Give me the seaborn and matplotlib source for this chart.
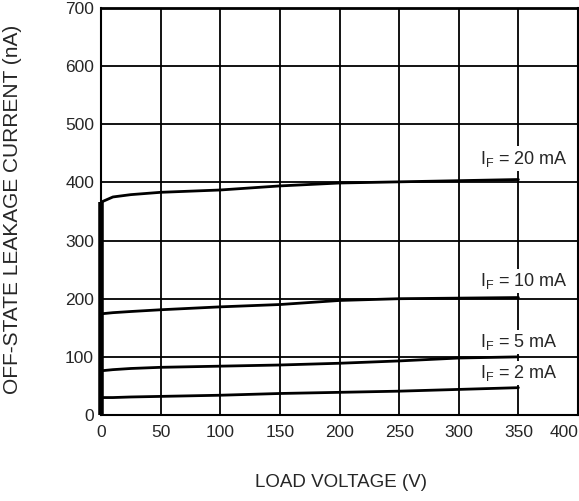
import matplotlib
matplotlib.use("Agg")
import matplotlib.pyplot as plt
import pandas as pd
import seaborn as sns

# values (load voltage in V, leakage in nA)
voltage = [0, 10, 25, 50, 100, 150, 200, 250, 300, 350]
leak_20ma = [366, 375, 379, 383, 387, 394, 399, 401, 403, 405]
leak_10ma = [174, 176, 178, 181, 186, 190, 197, 200, 201, 202]
leak_5ma = [76, 78, 80, 82, 84, 86, 89, 93, 98, 100]
leak_2ma = [30, 30, 31, 32, 34, 37, 39, 41, 44, 47]

series_names = ["20 mA", "10 mA", "5 mA", "2 mA"]
label_y = [441, 230, 126, 72]
label_x = 318

x_ticks = list(range(0, 401, 50))
y_ticks = list(range(0, 701, 100))

rows = []
for name, vals in zip(series_names, [leak_20ma, leak_10ma, leak_5ma, leak_2ma]):
    for v, i in zip(voltage, vals):
        rows.append({"voltage": v, "leakage": i, "IF": name})
df = pd.DataFrame(rows)

sns.set_style("white")
plt.rcParams["font.family"] = ["Liberation Sans", "DejaVu Sans"]

fig = plt.figure(figsize=(5.79, 5.01), dpi=100)
ax = fig.add_axes([101 / 579, 1 - 415 / 501, 477 / 579, 407 / 501])

sns.lineplot(data=df, x="voltage", y="leakage", units="IF", estimator=None,
             color="black", lw=2.0, ax=ax, legend=False, zorder=3)

# curves all rise out of the left axis
ax.vlines(0, 0, max(leak_20ma[0], leak_10ma[0], leak_5ma[0], leak_2ma[0]),
          color="black", lw=4, zorder=4, clip_on=False)

ax.set_xlim(0, 400)
ax.set_ylim(0, 700)
ax.set_xticks(x_ticks)
ax.set_yticks(y_ticks)
ax.grid(True, color="black", lw=1.3)
ax.tick_params(length=0, labelsize=12.5)
ax.tick_params(axis="x", pad=7)
ax.tick_params(axis="y", pad=5)
ax.get_xticklabels()[-1].set_horizontalalignment("right")

for side, sp in ax.spines.items():
    sp.set_color("black")
    sp.set_linewidth(1.5)
ax.spines["top"].set_linewidth(2.0)

for name, yv in zip(series_names, label_y):
    ax.text(label_x, yv, r"I$_{\mathregular{F}}$ = " + name, fontsize=13,
            ha="left", va="center", zorder=5,
            bbox=dict(facecolor="white", edgecolor="none", pad=1.5))

ax.set_xlabel("LOAD VOLTAGE (V)", fontsize=13.5, va="top")
ax.xaxis.set_label_coords(0.503, -0.145)
ax.set_ylabel("OFF-STATE LEAKAGE CURRENT (nA)", fontsize=15)
ax.yaxis.set_label_coords(-0.166, 0.504)

fig.savefig("out.png", dpi=100)
